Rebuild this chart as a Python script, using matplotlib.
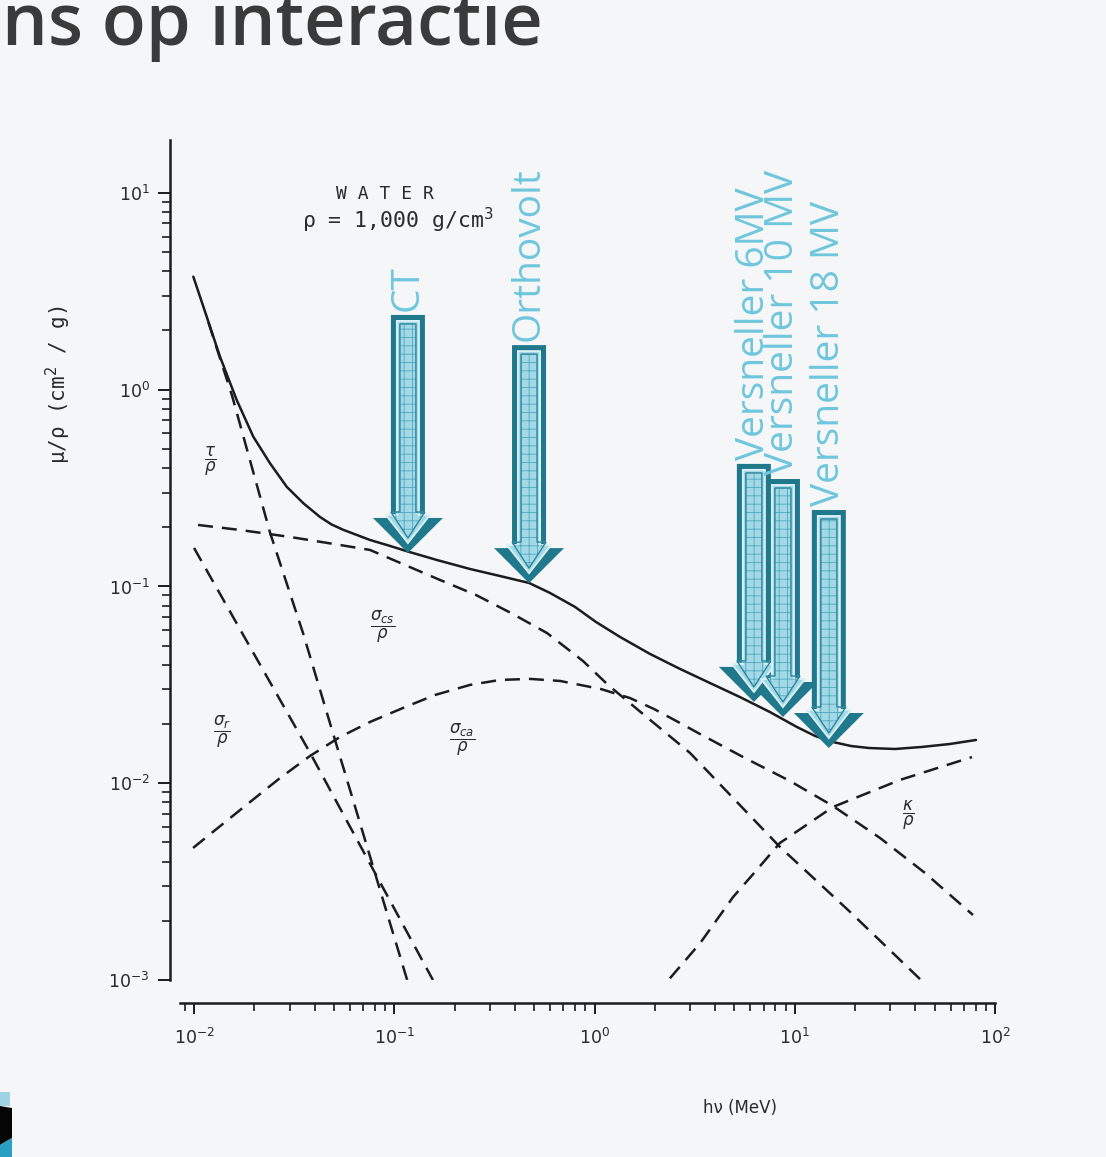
import numpy as np
import matplotlib
matplotlib.use('Agg')
import matplotlib.pyplot as plt
from matplotlib.patches import Polygon
from matplotlib import transforms

W, H, DPI = 1106, 1157, 100

# ---------------- data ----------------
total_E = [0.00992, 0.01157, 0.01348, 0.01633, 0.01977, 0.02395, 0.02904, 0.03514, 0.04257,
           0.04860, 0.05566, 0.07566, 0.0952, 0.1175, 0.1629, 0.2389, 0.3374, 0.471, 0.5995,
           0.7993, 1.017, 1.341, 1.893, 2.673, 3.774, 5.33, 7.52, 10.26, 12.62, 15.52, 19.10,
           23.49, 31.68, 43.2, 59.6, 80.4]
total_mu = [3.754, 2.351, 1.472, 0.887, 0.577, 0.423, 0.321, 0.265, 0.2255,
            0.2066, 0.194, 0.1723, 0.1607, 0.1503, 0.1364, 0.1227, 0.1130, 0.1042, 0.0927,
            0.0787, 0.0660, 0.0554, 0.0454, 0.0381, 0.0323, 0.0274, 0.0230, 0.0193, 0.0174,
            0.0162, 0.01546, 0.0151, 0.01493, 0.01529, 0.01583, 0.01659]

tau_E = [0.0118, 0.0155, 0.024, 0.035, 0.0494, 0.0698, 0.0879, 0.116]
tau_mu = [2.2, 0.93, 0.187, 0.0581, 0.018, 0.00558, 0.00255, 0.001]

ray_E = [0.01, 0.01995, 0.038, 0.0794, 0.156]
ray_mu = [0.157, 0.0453, 0.01426, 0.00356, 0.001]

cs_E = [0.01047, 0.01697, 0.03015, 0.05358, 0.07566, 0.1132, 0.1692, 0.2560, 0.3828, 0.5790,
        0.8761, 1.168, 1.893, 3.000, 5.03, 8.44, 18.88, 43.7]
cs_mu = [0.2054, 0.1937, 0.1785, 0.1625, 0.1533, 0.1286, 0.1079, 0.0905, 0.0733, 0.0580,
         0.0418, 0.0316, 0.0210, 0.01425, 0.00822, 0.00474, 0.00222, 0.000977]

ca_E = [0.00989, 0.01905, 0.02689, 0.03796, 0.05358, 0.07566, 0.1106, 0.1597, 0.2389, 0.3374,
        0.4764, 0.6725, 1.078, 1.504, 1.982, 2.673, 3.364, 5.64, 9.47, 15.52, 26.66, 44.7, 77.6]
ca_mu = [0.00469, 0.00803, 0.01063, 0.01376, 0.01718, 0.02048, 0.02413, 0.02808, 0.0316, 0.0335,
         0.0339, 0.0331, 0.0301, 0.0271, 0.02384, 0.02024, 0.01779, 0.01343, 0.01026, 0.00766,
         0.00527, 0.00350, 0.00214]

kap_E = [2.38, 3.37, 4.92, 6.33, 8.43, 15.5, 33.6, 76.7]
kap_mu = [0.00102, 0.00154, 0.00264, 0.00354, 0.00497, 0.00757, 0.0104, 0.01358]

curve_labels = [r'$\dfrac{\tau}{\rho}$', r'$\dfrac{\sigma_{cs}}{\rho}$', r'$\dfrac{\sigma_r}{\rho}$',
                r'$\dfrac{\sigma_{ca}}{\rho}$', r'$\dfrac{\kappa}{\rho}$']
curve_label_E = [0.0120, 0.0879, 0.0138, 0.218, 36.8]
curve_label_mu = [0.43, 0.0622, 0.0182, 0.0166, 0.0069]

arrow_labels = ['CT', 'Orthovolt', 'Versneller 6MV', 'Versneller 10 MV', 'Versneller 18 MV']
arrow_E = [0.117, 0.471, 6.25, 8.73, 14.8]
arrow_mu = [0.148, 0.104, 0.0259, 0.0217, 0.0151]

title = 'ns op interactie'
material = 'W A T E R'
density = 'ρ = 1,000 g/cm$^3$'
xlabel = 'hν (MeV)'
ylabel = 'μ/ρ (cm$^2$ / g)'

# ---------------- figure ----------------
plt.rcParams['hatch.linewidth'] = 0.6
fig = plt.figure(figsize=(W / DPI, H / DPI), dpi=DPI, facecolor='#f4f6f8')
ax = fig.add_axes([180 / W, 1 - 980 / H, 815 / W, 840 / H])
ax.set_facecolor('none')
ax.set_xscale('log')
ax.set_yscale('log')
ax.set_xlim(10 ** -2.07, 10 ** 2.0)
ax.set_ylim(1e-3, 10 ** 1.269)

ink = '#1c1c1c'
ax.spines['top'].set_visible(False)
ax.spines['right'].set_visible(False)
ax.spines['left'].set_position(('outward', 7.2))
ax.spines['bottom'].set_position(('outward', 16.5))
for s in ('left', 'bottom'):
    ax.spines[s].set_linewidth(1.8)
    ax.spines[s].set_color(ink)

ax.tick_params(axis='both', which='major', color=ink, width=1.4, labelsize=12.5, labelcolor='#2a2a2a')
ax.tick_params(axis='both', which='minor', color=ink, width=1.2)
ax.tick_params(axis='y', which='major', length=8.6, pad=6)
ax.tick_params(axis='y', which='minor', length=5.5)
ax.tick_params(axis='x', which='major', length=8, pad=10)
ax.tick_params(axis='x', which='minor', length=5.5)
ax.xaxis.set_minor_formatter(matplotlib.ticker.NullFormatter())
ax.yaxis.set_minor_formatter(matplotlib.ticker.NullFormatter())

ax.plot(total_E, total_mu, color=ink, lw=1.8, solid_capstyle='round', solid_joinstyle='round')
dash = dict(color=ink, lw=1.8, dashes=(6, 3.6))
ax.plot(tau_E, tau_mu, **dash)
ax.plot(ray_E, ray_mu, **dash)
ax.plot(cs_E, cs_mu, **dash)
ax.plot(ca_E, ca_mu, **dash)
ax.plot(kap_E, kap_mu, **dash)

for s, e, m in zip(curve_labels, curve_label_E, curve_label_mu):
    ax.text(e, m, s, fontsize=12, color='#2a2a2a', ha='center', va='center')

ax.text(0.0899, 9.89, material, family='DejaVu Sans Mono', fontsize=13, color='#2a2a2a',
        ha='center', va='center')
ax.text(0.1045, 7.29, density, family='DejaVu Sans Mono', fontsize=15.5, color='#2a2a2a',
        ha='center', va='center')

# ---------------- block arrows ----------------
def block_arrow(x, y, label, T=238, w=17, hw=35, hl=35):
    trans = fig.dpi_scale_trans + transforms.ScaledTranslation(x, y, ax.transData)
    s = 1.0 / DPI
    outer = np.array([(-w, T), (w, T), (w, hl), (hw, hl), (0, 0), (-hw, hl), (-w, hl)]) * s
    d = 6
    inner = np.array([(-(w - d), T - d), (w - d, T - d), (w - d, hl + 3), (hw - 13, hl + 3),
                      (0, 10), (-(hw - 13), hl + 3), (-(w - d), hl + 3)]) * s
    d2 = 9
    inner2 = np.array([(-(w - d2), T - d2), (w - d2, T - d2), (w - d2, hl + 6), (hw - 18, hl + 6),
                       (0, 15), (-(hw - 18), hl + 6), (-(w - d2), hl + 6)]) * s
    ax.add_patch(Polygon(outer, closed=True, transform=trans, fc='#1f788b', ec='none',
                         zorder=5, clip_on=False))
    ax.add_patch(Polygon(inner, closed=True, transform=trans, fc='#a3d8e6', ec='#d9f0f6',
                         lw=1.4, zorder=6, clip_on=False))
    ax.add_patch(Polygon(inner2, closed=True, transform=trans, fc='none', ec='#4fa9bf',
                         lw=0.5, hatch='++', zorder=7, clip_on=False))
    ax.add_patch(Polygon(inner2, closed=True, transform=trans, fc='none', ec='#2b8399',
                         lw=0.9, zorder=8, clip_on=False))
    ax.text(0, (T + 4) * s, label, transform=trans, rotation=90, rotation_mode='anchor',
            ha='left', va='center', fontsize=28, color='#6fc6dc', family='Open Sans',
            zorder=9, clip_on=False)

for lab, e, m in zip(arrow_labels, arrow_E, arrow_mu):
    block_arrow(e, m, lab)

# ---------------- outer texts ----------------
fig.text(740 / W, 1 - 1108 / H, xlabel, ha='center', va='center', fontsize=12, color='#2a2a2a')
fig.text(58 / W, 1 - 385 / H, ylabel, ha='center', va='center', rotation=90, fontsize=15,
         family='DejaVu Sans Mono', color='#2a2a2a')
fig.text(2 / W, 1 - 45 / H, title, ha='left', va='baseline', fontsize=52, fontweight='semibold',
         family='Open Sans', color='#3a3a3a')

# slide decoration bottom-left
def fp(px, py):
    return (px / W, 1 - py / H)

fig.patches.append(Polygon([fp(0, 1092), fp(10, 1092), fp(10, 1106), fp(0, 1106)],
                           closed=True, transform=fig.transFigure, fc='#9fd3e3', ec='none'))
fig.patches.append(Polygon([fp(0, 1106), fp(12, 1108), fp(12, 1138), fp(0, 1145)],
                           closed=True, transform=fig.transFigure, fc='#050505', ec='none'))
fig.patches.append(Polygon([fp(0, 1145), fp(12, 1138), fp(12, 1157), fp(0, 1157)],
                           closed=True, transform=fig.transFigure, fc='#2a9fc4', ec='none'))

fig.savefig('out.png', dpi=DPI, facecolor=fig.get_facecolor())
